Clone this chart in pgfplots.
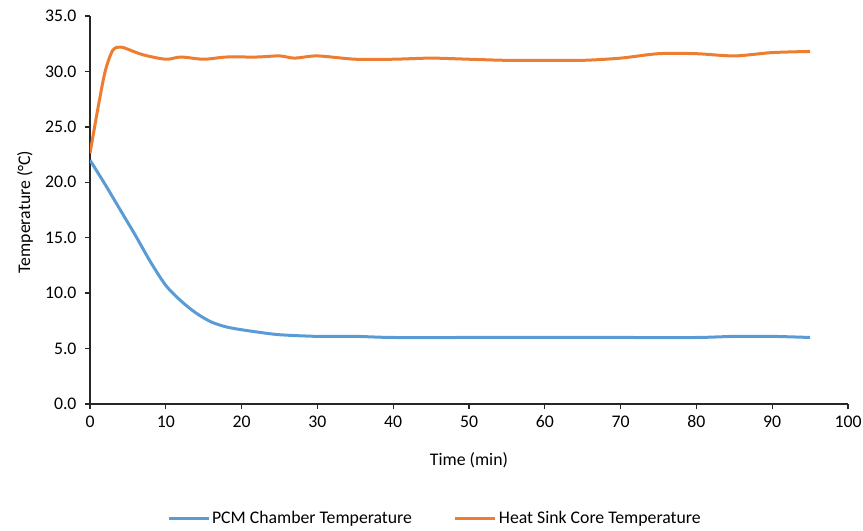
\documentclass[border=0pt]{standalone}
\usepackage{pgfplots}
\pgfplotsset{compat=1.18}
\usepackage{fontspec}
\setmainfont{Carlito}
\definecolor{pcmblue}{HTML}{5B9BD5}
\definecolor{sinkorange}{HTML}{ED7D31}
\newcommand{\chartfont}{\fontsize{17.8}{20}\selectfont}
\begin{document}
\begin{tikzpicture}
\begin{axis}[
  at={(0,0)}, anchor=south west,
  scale only axis, width=758bp, height=388bp,
  xmin=0, xmax=100, ymin=0, ymax=35,
  xtick={0,10,...,100}, ytick={0,5,...,35},
  axis x line*=bottom, axis y line*=left,
  axis line style={line width=1.3bp, black!85},
  tick style={line width=1.3bp, black!85},
  tick align=outside, major tick length=5bp,
  /pgf/number format/assume math mode=true,
  yticklabel style={/pgf/number format/fixed, /pgf/number format/fixed zerofill,
    /pgf/number format/precision=1, font=\chartfont, xshift=-5bp},
  xticklabel style={font=\chartfont, yshift=-3bp},
  xlabel={Time (min)}, ylabel={Temperature (°C)},
  label style={font=\chartfont},
  xlabel style={at={(axis description cs:0.5,-0.144)}, anchor=center},
  ylabel style={at={(axis description cs:-0.0858,0.495)}, anchor=center},
  legend columns=2,
  legend style={at={(0.455,-0.294)}, anchor=center, draw=none,
    font=\chartfont,
    /tikz/every even column/.append style={column sep=40bp}},
  legend image code/.code={\draw[#1, line width=3bp] (0bp,0bp) -- (40bp,0bp);},
]
\addplot[pcmblue, line width=3bp, smooth, tension=0.5] coordinates {
  (0,22.0) (2,19.8) (4,17.5) (6,15.2) (8,12.8) (10,10.7) (12,9.3) (14,8.2)
  (16,7.4) (18,6.95) (20,6.7) (22,6.5) (25,6.25) (30,6.1) (35,6.1) (40,6.0)
  (50,6.0) (60,6.0) (70,6.0) (80,6.0) (85,6.1) (90,6.1) (95,6.0)
};
\addlegendentry{PCM Chamber Temperature}
\addplot[sinkorange, line width=3bp, smooth, tension=0.5] coordinates {
  (0,22.6) (1,26.5) (2,30.0) (3,31.9) (4,32.2) (5,32.0) (7,31.5) (10,31.1)
  (12,31.3) (15,31.1) (18,31.3) (22,31.3) (25,31.4) (27,31.2) (30,31.4)
  (35,31.1) (40,31.1) (45,31.2) (50,31.1) (55,31.0) (60,31.0) (65,31.0)
  (70,31.2) (75,31.6) (80,31.6) (85,31.4) (90,31.7) (95,31.8)
};
\addlegendentry{Heat Sink Core Temperature}
\end{axis}
\pgfresetboundingbox
\path[use as bounding box] (-90bp,-127bp) rectangle (773bp,404bp);
\end{tikzpicture}
\end{document}
